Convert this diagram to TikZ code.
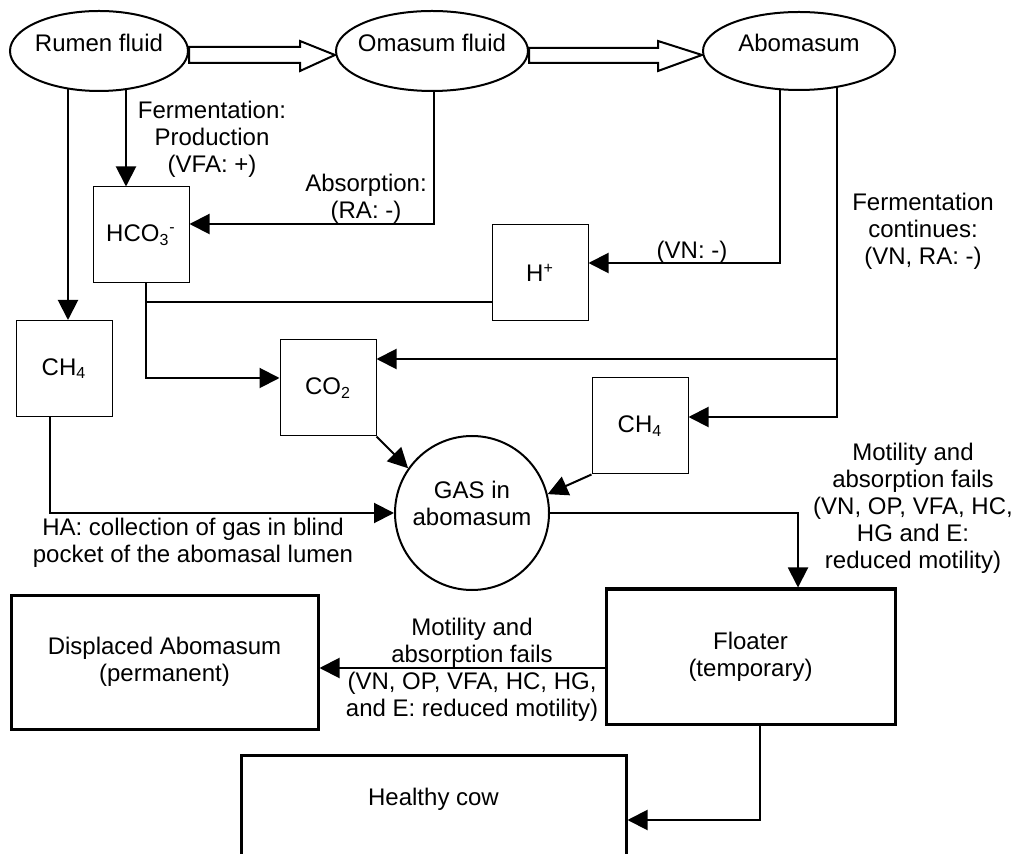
\documentclass[tikz,border=0pt]{standalone}
\usepackage{fontspec}
\setmainfont{Liberation Sans}
\usetikzlibrary{arrows.meta,calc,shapes.geometric,backgrounds}
\begin{document}
\begin{tikzpicture}[x=0.5pt,y=-0.5pt,
  every node/.style={font=\fontsize{12}{13.5}\selectfont},
  oval/.style={ellipse,draw,line width=1pt,fill=white,inner sep=0pt,text depth=8pt},
  smallbox/.style={rectangle,draw,line width=0.5pt,fill=white,minimum width=48pt,minimum height=48pt,inner sep=0pt},
  bigbox/.style={rectangle,draw,line width=1.5pt,fill=white,align=center,inner sep=0pt},
  conn/.style={line width=1pt,-{Triangle[length=10pt,width=10pt]}},
  plainline/.style={line width=1pt},
  lbl/.style={align=center,inner sep=0pt},
  hollow/.style={line width=1pt,fill=white,line join=miter}]
\useasboundingbox (0,0) rectangle (1016,854);
\clip (0,0) rectangle (1016,854);

% ellipses
\node[oval,minimum width=89pt,minimum height=40pt] (rumen) at (99,51) {\makebox[0pt]{Rumen fluid}};
\node[oval,minimum width=96pt,minimum height=40pt] (omasum) at (432,51) {\makebox[0pt]{Omasum fluid}};
\node[oval,minimum width=96pt,minimum height=39pt] (aboma) at (799,51) {\makebox[0pt]{Abomasum}};

% small boxes
\node[smallbox] (hco3) at (141,235) {HCO\textsubscript{3}\textsuperscript{-}};
\node[smallbox] (hplus) at (540,273) {H\textsuperscript{+}};
\node[smallbox] (ch4l) at (64,368.5) {CH\textsubscript{4}};
\node[smallbox] (co2) at (328,388) {CO\textsubscript{2}};
\node[smallbox] (ch4r) at (640,426) {CH\textsubscript{4}};

% gas
\node[circle,draw,line width=1pt,fill=white,minimum size=77pt,inner sep=0pt,
      label={[lbl,yshift=5pt]center:{GAS in\\abomasum}}] (gas) at (472,513) {};

% big boxes
\node[bigbox,minimum width=144.5pt,minimum height=67.5pt] (floater) at (750.5,656.5) {Floater\\(temporary)};
\node[bigbox,minimum width=153.5pt,minimum height=67pt] (displaced) at (164.5,662) {Displaced Abomasum\\(permanent)};
\node[bigbox,minimum width=192.5pt,minimum height=55pt,text depth=13pt] (healthy) at (433.5,810) {Healthy cow};

% labels
\node[lbl] (lferm) at (212,139) {Fermentation:\\Production\\(VFA: +)};
\node[lbl] (labs) at (366,199) {Absorption:\\(RA: -)};
\node[lbl] (lvn) at (692,252) {(VN: -)};
\node[lbl] (lfc) at (923,231) {Fermentation\\continues:\\(VN, RA: -)};
\node[lbl] (lha) at (193,543) {HA: collection of gas in blind\\pocket of the abomasal lumen};
\node[lbl] (lmot1) at (913,508) {Motility and\\absorption fails\\(VN, OP, VFA, HC,\\HG and E:\\reduced motility)};
\node[lbl] (lmot2) at (472,670) {Motility and\\absorption fails\\(VN, OP, VFA, HC, HG,\\and E: reduced motility)};

% helper coordinates
\coordinate (r1) at ($(rumen.center)+(-31,0)$);
\coordinate (r2) at ($(rumen.center)+(27,0)$);
\coordinate (o1) at ($(omasum.center)+(2,0)$);
\coordinate (a1) at ($(aboma.center)+(-19,0)$);
\coordinate (a2) at ($(aboma.center)+(38,0)$);
\coordinate (hco3in) at ($(hco3.east)+(0,-11)$);
\coordinate (hpin) at ($(hplus.east)+(0,-10)$);
\coordinate (co2in) at ($(co2.east)+(0,-29)$);
\coordinate (ch4in) at ($(ch4r.east)+(0,-9)$);
\coordinate (hc1) at ($(hco3.south)+(5,0)$);
\coordinate (co2l) at ($(co2.west)+(0,-10)$);
\coordinate (hpl) at ($(hplus.west)+(0,29)$);
\coordinate (c1) at ($(ch4l.south)+(-14,0)$);
\coordinate (flin) at ($(floater.north)+(47.5,0)$);
\coordinate (flout) at ($(floater.west)+(0,11.5)$);
\coordinate (flbot) at ($(floater.south)+(9.5,0)$);
\coordinate (hin) at ($(healthy.east)+(0,10)$);

\begin{scope}[on background layer]
  % hollow arrows
  \draw[hollow] ($(rumen.east)+(0,-4)$) -- ($(omasum.west)+(-35,-4)$) -- ($(omasum.west)+(-35,-10)$) -- ($(omasum.west)+(0,4)$) -- ($(omasum.west)+(-35,20)$) -- ($(omasum.west)+(-35,12)$) -- ($(rumen.east)+(0,12)$) -- cycle;
  \draw[hollow] ($(omasum.east)+(0,-3)$) -- ($(aboma.west)+(-44,-3)$) -- ($(aboma.west)+(-44,-10)$) -- ($(aboma.west)+(0,4)$) -- ($(aboma.west)+(-44,20)$) -- ($(aboma.west)+(-44,12)$) -- ($(omasum.east)+(0,12)$) -- cycle;
  % connectors
  \draw[conn] (r1) -- (r1 |- ch4l.north);
  \draw[conn] (r2) -- (r2 |- hco3.north);
  \draw[conn] (o1) |- (hco3in);
  \draw[conn] (a1) |- (hpin);
  \draw[conn] (a2) |- (co2in);
  \draw[conn] (a2) |- (ch4in);
  \draw[conn] (hc1) |- (co2l);
  \draw[plainline] (hpl) -- (hpl -| hc1);
  \draw[conn] (c1) |- (gas.west);
  \draw[conn] (co2.south east) -- (gas.145);
  \draw[conn] (ch4r.south west) -- (gas.14);
  \draw[conn] (gas.east) -| (flin);
  \draw[conn] (flout) -- (flout -| displaced.east);
  \draw[conn] (flbot) |- (hin);
\end{scope}
\end{tikzpicture}
\end{document}
